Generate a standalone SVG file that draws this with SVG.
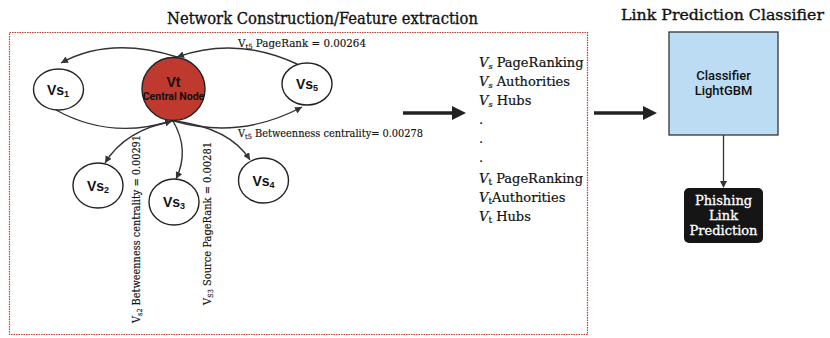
<svg xmlns="http://www.w3.org/2000/svg" width="830" height="338" viewBox="0 0 830 338">
<defs>
<style>
.title{font-family:"DejaVu Serif","Liberation Serif",serif;font-size:16.5px;fill:#111;stroke:#111;stroke-width:0.35}
.lbl{font-family:"DejaVu Serif","Liberation Serif",serif;font-size:10.5px;fill:#111;stroke:#111;stroke-width:0.15}
.feat{font-family:"DejaVu Serif","Liberation Serif",serif;font-size:13px;fill:#111;stroke:#111;stroke-width:0.2}
.node{fill:#fff;stroke:#222;stroke-width:1.4}
.nt{font-family:"Liberation Sans",Arial,sans-serif;font-weight:bold;font-size:14px;fill:#111}
.edge{fill:none;stroke:#333;stroke-width:1.4}
.sans{font-family:Roboto,"Liberation Sans",sans-serif;font-weight:500;fill:#111}
.pred{font-family:"DejaVu Serif","Liberation Serif",serif;font-size:13px;fill:#fff;stroke:#fff;stroke-width:0.3}
</style>
<marker id="ah" viewBox="0 0 10 10" refX="10" refY="5" markerWidth="7" markerHeight="7" markerUnits="userSpaceOnUse" orient="auto">
<path d="M0,0 L10,5 L0,10 z" fill="#333"/>
</marker>
</defs>
<rect width="830" height="338" fill="#fff"/>
<text class="title" x="167" y="24" textLength="311" lengthAdjust="spacingAndGlyphs">Network Construction/Feature extraction</text>
<text class="title" x="621" y="20" font-size="15.5" textLength="203" lengthAdjust="spacingAndGlyphs" style="font-size:15.5px">Link Prediction Classifier</text>
<rect x="9.5" y="32.5" width="578" height="302" fill="none" stroke="#c0392b" stroke-width="1.2" stroke-dasharray="1.5,1"/>

<g id="connectors">
<path class="edge" d="M297,64 Q237,36 177,57" marker-end="url(#ah)"/>
<path class="edge" d="M177,57 Q110,36 61,63" marker-end="url(#ah)"/>
<path class="edge" d="M56,110 Q110,140 172,121" marker-end="url(#ah)"/>
<path class="edge" d="M174,121 Q240,140 302,107" marker-end="url(#ah)"/>
<path class="edge" d="M173,121 Q125,130 105,163" marker-end="url(#ah)"/>
<path class="edge" d="M173,121 Q190,150 176,179" marker-end="url(#ah)"/>
<path class="edge" d="M175,121 Q230,128 250,160" marker-end="url(#ah)"/>
<line x1="403" y1="113" x2="453" y2="113" stroke="#222" stroke-width="3.5"/>
<polygon points="452,106 466,113 452,120" fill="#222"/>
<line x1="594" y1="113" x2="644" y2="113" stroke="#222" stroke-width="3.5"/>
<polygon points="643,106 657,113 643,120" fill="#222"/>
<line x1="723.5" y1="135" x2="723.5" y2="182" stroke="#333" stroke-width="1.3"/>
<polygon points="720,181 727,181 723.5,188" fill="#333"/>
</g>

<g id="vt">
<circle cx="173.5" cy="89" r="31.5" fill="#c0392f" stroke="#222" stroke-width="1.4"/>
<text class="nt" x="173.5" y="87" text-anchor="middle" font-size="15">Vt</text>
<text x="173.5" y="100" text-anchor="middle" style="font-family:Roboto,'Liberation Sans',sans-serif;font-weight:bold;font-size:10.5px;fill:#111">Central Node</text>
</g>
<g id="vs1">
<ellipse class="node" cx="58.5" cy="89.5" rx="25" ry="20.5"/>
<text class="nt" x="58" y="94.5" text-anchor="middle">Vs<tspan font-size="9" dy="2">1</tspan></text>
</g>
<g id="vs5">
<ellipse class="node" cx="307" cy="84" rx="25" ry="21"/>
<text class="nt" x="307" y="89" text-anchor="middle">Vs<tspan font-size="9" dy="2">5</tspan></text>
</g>
<g id="vs2">
<ellipse class="node" cx="98" cy="185.5" rx="25" ry="22.5"/>
<text class="nt" x="98" y="190.5" text-anchor="middle">Vs<tspan font-size="9" dy="2">2</tspan></text>
</g>
<g id="vs3">
<ellipse class="node" cx="174" cy="202" rx="25" ry="23"/>
<text class="nt" x="174" y="207" text-anchor="middle">Vs<tspan font-size="9" dy="2">3</tspan></text>
</g>
<g id="vs4">
<ellipse class="node" cx="263.5" cy="180.5" rx="25" ry="22.5"/>
<text class="nt" x="263.5" y="185.5" text-anchor="middle">Vs<tspan font-size="9" dy="2">4</tspan></text>
</g>

<g id="labels">
<text class="lbl" x="238" y="47" textLength="128" lengthAdjust="spacingAndGlyphs">V<tspan font-size="7" dy="2">t5</tspan><tspan dy="-2"> PageRank =  0.00264</tspan></text>
<text class="lbl" x="238" y="137" textLength="185" lengthAdjust="spacingAndGlyphs">V<tspan font-size="7" dy="2">t5</tspan><tspan dy="-2"> Betweenness centrality= 0.00278</tspan></text>
<text class="lbl" transform="translate(140,323) rotate(-90)" textLength="188" lengthAdjust="spacingAndGlyphs">V<tspan font-size="7" dy="2">s2</tspan><tspan dy="-2"> Betweenness centrality = 0.00291</tspan></text>
<text class="lbl" transform="translate(211,305) rotate(-90)" textLength="163" lengthAdjust="spacingAndGlyphs">V<tspan font-size="7" dy="2">S3</tspan><tspan dy="-2"> Source PageRank =  0.00281</tspan></text>
</g>

<g id="features">
<text class="feat" x="479" y="67"><tspan font-style="italic">V</tspan><tspan font-style="italic" font-size="8" dy="2">s</tspan><tspan dy="-2"> PageRanking</tspan></text>
<text class="feat" x="479" y="86"><tspan font-style="italic">V</tspan><tspan font-style="italic" font-size="8" dy="2">s</tspan><tspan dy="-2"> Authorities</tspan></text>
<text class="feat" x="479" y="105"><tspan font-style="italic">V</tspan><tspan font-style="italic" font-size="8" dy="2">s</tspan><tspan dy="-2"> Hubs</tspan></text>
<text class="feat" x="479" y="124">.</text>
<text class="feat" x="479" y="143">.</text>
<text class="feat" x="479" y="162">.</text>
<text class="feat" x="479" y="183"><tspan font-style="italic">V</tspan><tspan font-size="9" dy="2">t</tspan><tspan dy="-2"> PageRanking</tspan></text>
<text class="feat" x="479" y="202"><tspan font-style="italic">V</tspan><tspan font-size="9" dy="2">t</tspan><tspan dy="-2">Authorities</tspan></text>
<text class="feat" x="479" y="221"><tspan font-style="italic">V</tspan><tspan font-size="9" dy="2">t</tspan><tspan dy="-2"> Hubs</tspan></text>
</g>

<g id="classifier">
<rect x="669" y="32" width="109" height="103" fill="#bcdcf3" stroke="#333" stroke-width="1.3"/>
<text class="sans" x="723.5" y="80" text-anchor="middle" font-size="13">Classifier</text>
<text class="sans" x="723.5" y="95" text-anchor="middle" font-size="13">LightGBM</text>
</g>
<g id="prediction">
<rect x="684" y="188" width="79" height="55" rx="5" fill="#151515"/>
<text class="pred" x="723.5" y="205" text-anchor="middle">Phishing</text>
<text class="pred" x="723.5" y="220" text-anchor="middle">Link</text>
<text class="pred" x="723.5" y="235" text-anchor="middle">Prediction</text>
</g>
</svg>
